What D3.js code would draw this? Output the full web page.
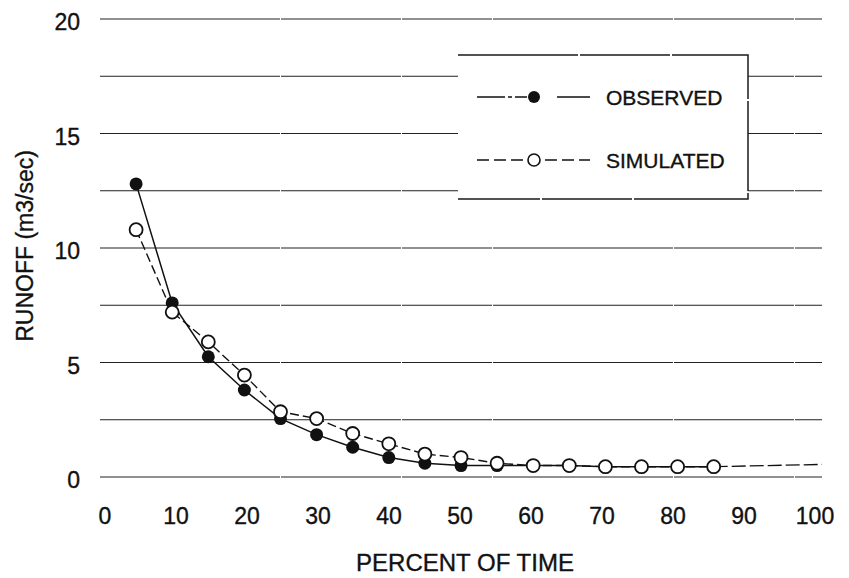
<!DOCTYPE html>
<html>
<head>
<meta charset="utf-8">
<script src="https://d3js.org/d3.v7.min.js"></script>
<style>
  body { margin: 0; background: #fff; }
  svg text { font-family: "Liberation Sans", Arial, Helvetica, sans-serif; fill: #111; stroke: #111; stroke-width: 0.35px; }
</style>
</head>
<body>
<div id="chart"></div>
<script>
// percent of time (exceedance) for each plotted point
var percent = [5, 10, 15, 20, 25, 30, 35, 40, 45, 50, 55, 60, 65, 70, 75, 80, 85];
var observed = [12.8, 7.6, 5.25, 3.8, 2.55, 1.85, 1.3, 0.85, 0.6, 0.5, 0.5, 0.5, 0.5, 0.45, 0.45, 0.45, 0.45];
var simulated = [10.8, 7.2, 5.9, 4.45, 2.85, 2.55, 1.9, 1.45, 1.0, 0.85, 0.6, 0.5, 0.5, 0.45, 0.45, 0.45, 0.45];
// dashed tail after the last plotted point
var tailPercent = [85, 100];
var tailValue = [0.45, 0.55];

var xTicks = [0, 10, 20, 30, 40, 50, 60, 70, 80, 90, 100];
var yTicks = [0, 5, 10, 15, 20];
var gridValues = [0, 2.5, 5, 7.5, 10, 12.5, 15, 17.5, 20];
var legendLabels = ["OBSERVED", "SIMULATED"];

var width = 849, height = 578;

var svg = d3.select("#chart")
  .append("svg")
  .attr("width", width)
  .attr("height", height);

var x = d3.scaleLinear().domain([0, 100]).range([100, 822]);
// the printed tick numbers sit a little off the plotting grid
var xLabel = d3.scaleLinear().domain([0, 100]).range([105, 815]);
var y = d3.scaleLinear().domain([0, 20]).range([477, 19]);

// horizontal grid
svg.append("g")
  .selectAll("line")
  .data(gridValues)
  .enter()
  .append("line")
  .attr("x1", x(0))
  .attr("x2", x(100))
  .attr("y1", function (d) { return y(d); })
  .attr("y2", function (d) { return y(d); })
  .attr("stroke", "#222")
  .attr("stroke-width", 1.2)
  .attr("stroke-dasharray", "180 1 120 1 90 1");

// y tick labels
svg.append("g")
  .selectAll("text")
  .data(yTicks)
  .enter()
  .append("text")
  .attr("x", 80)
  .attr("y", function (d) { return y(d) + 3; })
  .attr("text-anchor", "end")
  .attr("dominant-baseline", "central")
  .style("font-size", "23px")
  .text(function (d) { return d; });

// x tick labels
svg.append("g")
  .selectAll("text")
  .data(xTicks)
  .enter()
  .append("text")
  .attr("x", function (d) { return xLabel(d); })
  .attr("y", 524)
  .attr("text-anchor", "middle")
  .style("font-size", "23px")
  .text(function (d) { return d; });

svg.append("text")
  .attr("x", 465)
  .attr("y", 571)
  .attr("text-anchor", "middle")
  .style("font-size", "24px")
  .text("PERCENT OF TIME");

svg.append("text")
  .attr("transform", "translate(33,246) rotate(-90)")
  .attr("text-anchor", "middle")
  .style("font-size", "23px")
  .text("RUNOFF (m3/sec)");

// legend box (white, covers the grid; no left edge)
var lg = { x0: 458, x1: 748, y0: 55, y1: 199 };
svg.append("rect")
  .attr("x", lg.x0)
  .attr("y", lg.y0)
  .attr("width", lg.x1 - lg.x0)
  .attr("height", lg.y1 - lg.y0)
  .attr("fill", "#fff");
svg.append("path")
  .attr("d", "M" + lg.x0 + "," + lg.y0 + "H" + lg.x1 + "V" + lg.y1 + "H" + lg.x0)
  .attr("fill", "none")
  .attr("stroke", "#1a1a1a")
  .attr("stroke-width", 1.5)
  .attr("stroke-dasharray", "120 2 90 2");

var obsData = percent.map(function (p, i) { return { p: p, v: observed[i] }; });
var simData = percent.map(function (p, i) { return { p: p, v: simulated[i] }; });
var tailData = tailPercent.map(function (p, i) { return { p: p, v: tailValue[i] }; });

var line = d3.line()
  .x(function (d) { return x(d.p); })
  .y(function (d) { return y(d.v); });

svg.append("path")
  .datum(tailData)
  .attr("d", line)
  .attr("fill", "none")
  .attr("stroke", "#111")
  .attr("stroke-width", 1.3)
  .attr("stroke-dasharray", "14 4");

svg.append("path")
  .datum(obsData)
  .attr("d", line)
  .attr("fill", "none")
  .attr("stroke", "#111")
  .attr("stroke-width", 1.5);

svg.append("path")
  .datum(simData)
  .attr("d", line)
  .attr("fill", "none")
  .attr("stroke", "#111")
  .attr("stroke-width", 1.4)
  .attr("stroke-dasharray", "9 4");

svg.append("g")
  .selectAll("circle")
  .data(obsData)
  .enter()
  .append("circle")
  .attr("cx", function (d) { return x(d.p); })
  .attr("cy", function (d) { return y(d.v); })
  .attr("r", 6.5)
  .attr("fill", "#111");

svg.append("g")
  .selectAll("circle")
  .data(simData)
  .enter()
  .append("circle")
  .attr("cx", function (d) { return x(d.p); })
  .attr("cy", function (d) { return y(d.v); })
  .attr("r", 6.5)
  .attr("fill", "#fff")
  .attr("stroke", "#111")
  .attr("stroke-width", 1.8);

// legend entries
var rows = svg.append("g")
  .selectAll("g")
  .data(legendLabels)
  .enter()
  .append("g")
  .attr("transform", function (d, i) { return "translate(0," + (97 + i * 63) + ")"; });

rows.append("line")
  .attr("x1", 477)
  .attr("x2", 590)
  .attr("stroke", "#111")
  .attr("stroke-width", 1.5)
  .attr("stroke-dasharray", function (d, i) { return i === 0 ? "28 3 4 3 12 30 44" : "12 5"; });

rows.append("circle")
  .attr("cx", 534)
  .attr("r", 6)
  .attr("fill", function (d, i) { return i === 0 ? "#111" : "#fff"; })
  .attr("stroke", "#111")
  .attr("stroke-width", function (d, i) { return i === 0 ? 0 : 1.6; });

rows.append("text")
  .attr("x", 606)
  .attr("dominant-baseline", "central")
  .style("font-size", "21px")
  .text(function (d) { return d; });
</script>
</body>
</html>
